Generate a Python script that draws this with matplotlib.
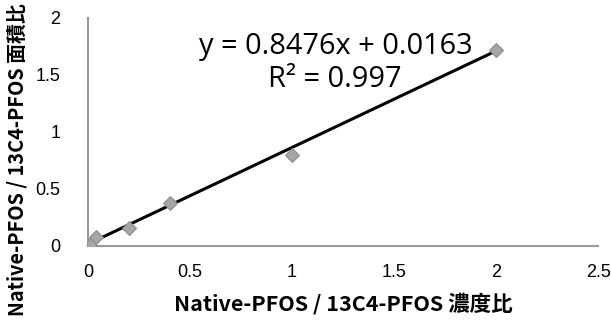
import numpy as np
import matplotlib.pyplot as plt

plt.rcParams['font.family'] = ['Noto Sans CJK JP', 'DejaVu Sans']

# Calibration data: concentration ratio vs. area ratio
conc_ratio = [0.0, 0.01, 0.04, 0.2, 0.4, 1.0, 2.0]
area_ratio = [0.0, 0.01, 0.08, 0.16, 0.38, 0.80, 1.72]
slope = 0.8476
intercept = 0.0163
r_squared = 0.997
x_ticks = [0, 0.5, 1, 1.5, 2, 2.5]
y_ticks = [0, 0.5, 1, 1.5, 2]

fig = plt.figure(figsize=(6.11, 3.27), dpi=100)
ax = fig.add_axes([0.144, 0.248, 0.835, 0.697])

# trend line
xf = np.array([0.0, 2.0])
ax.plot(xf, slope * xf + intercept, color='black', linewidth=2.2, zorder=2)

# data points
ax.scatter(conc_ratio, area_ratio, marker='D', s=50, color='#a6a6a6',
           edgecolors='#8c8c8c', linewidths=0.8, zorder=3)

ax.set_xlim(0, 2.5)
ax.set_ylim(0, 2)
ax.set_xticks(x_ticks)
ax.set_yticks(y_ticks)
ax.set_xticklabels([f'{t:g}' for t in x_ticks], fontfamily='Liberation Sans')
ax.set_yticklabels([f'{t:g}' for t in y_ticks], fontfamily='Liberation Sans')
ax.tick_params(length=0, labelsize=13, pad=13)
ax.tick_params(axis='y', pad=20)

for side in ['top', 'right']:
    ax.spines[side].set_visible(False)
for side in ['left', 'bottom']:
    ax.spines[side].set_color('#9a9a9a')
    ax.spines[side].set_linewidth(1.5)

ax.set_xlabel('Native-PFOS / 13C4-PFOS 濃度比', fontsize=15.5, fontweight='bold',
              va='center')
ax.set_ylabel('Native-PFOS / 13C4-PFOS 面積比', fontsize=14.3, fontweight='bold',
              va='center')
ax.xaxis.set_label_coords(0.5, -0.254)
ax.yaxis.set_label_coords(-0.139, 0.377)

ax.text(1.215, 1.75, f'y = {slope}x + {intercept}', fontsize=20.9,
        fontfamily='Open Sans', ha='center', va='center')
ax.text(1.21, 1.46, f'R² = {r_squared}', fontsize=20.9,
        fontfamily='Open Sans', ha='center', va='center')

fig.savefig('out.png', dpi=100)
